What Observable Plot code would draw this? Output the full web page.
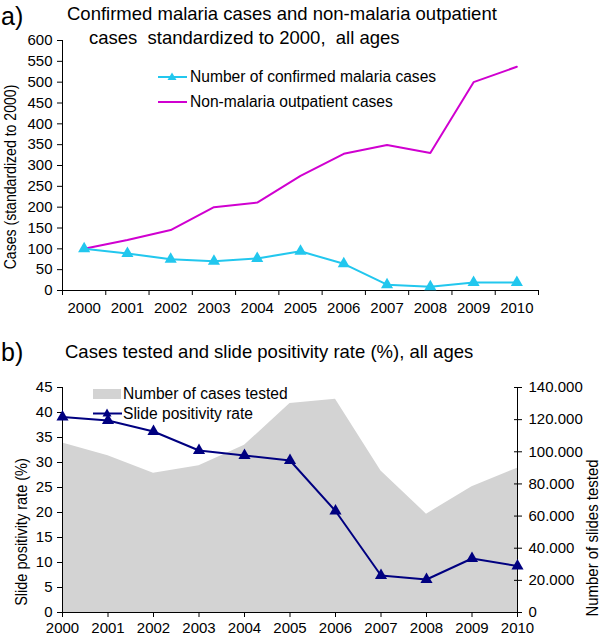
<!DOCTYPE html>
<html><head><meta charset="utf-8">
<script src="https://cdn.jsdelivr.net/npm/d3@7"></script>
<script src="https://cdn.jsdelivr.net/npm/@observablehq/plot@0.6"></script>
<style>
body{margin:0;background:#fff;font-family:Arial,"Liberation Sans",sans-serif;}
#wrap{position:relative;width:600px;height:639px;overflow:hidden;}
#top,#bot{position:absolute;left:0;}
#top{top:0;} #bot{top:320px;}
.t{position:absolute;white-space:pre;color:#000;line-height:1;}
.rot{transform:translate(-50%,-50%) rotate(-90deg) scale(0.88,1);}
svg.sw{position:absolute;overflow:visible;}
</style></head><body><div id="wrap">
<div id="top"></div><div id="bot"></div>
<div class="t" style="left:1px;top:4px;font-size:25px;">a)</div>
<div class="t" style="left:67px;top:5px;font-size:18.5px;">Confirmed malaria cases and non-malaria outpatient</div>
<div class="t" style="left:89px;top:29px;font-size:18.5px;">cases  standardized to 2000,  all ages</div>
<div class="t rot" style="left:11px;top:177px;font-size:16px;">Cases (standardized to 2000)</div>
<svg class="sw" style="left:0;top:0" width="1" height="1">
  <line x1="158" y1="77" x2="187" y2="77" stroke="#22C7EE" stroke-width="2"/>
  <path d="M172,72.5 L176.5,80 L167.5,80 Z" fill="#22C7EE"/>
  <line x1="158" y1="102" x2="187" y2="102" stroke="#D000D0" stroke-width="2"/>
</svg>
<div class="t" style="left:190px;top:69px;font-size:15.6px;">Number of confirmed malaria cases</div>
<div class="t" style="left:190px;top:94px;font-size:15.6px;">Non-malaria outpatient cases</div>

<div class="t" style="left:1px;top:340px;font-size:25px;">b)</div>
<div class="t" style="left:65px;top:343px;font-size:18.5px;">Cases tested and slide positivity rate (%), all ages</div>
<div class="t rot" style="left:21px;top:532px;font-size:16.5px;">Slide positivity rate (%)</div>
<div class="t rot" style="left:592px;top:538px;font-size:17px;">Number of slides tested</div>
<svg class="sw" style="left:0;top:0" width="1" height="1">
  <rect x="93" y="389" width="28" height="10" fill="#D3D3D3"/>
  <line x1="93" y1="413.5" x2="122" y2="413.5" stroke="#000080" stroke-width="2"/>
  <path d="M107,408.5 L111.5,416.5 L102.5,416.5 Z" fill="#000080"/>
</svg>
<div class="t" style="left:123px;top:386px;font-size:15.6px;">Number of cases tested</div>
<div class="t" style="left:123px;top:406px;font-size:15.6px;">Slide positivity rate</div>
</div>
<script>
// ---- data ----
const years = [2000, 2001, 2002, 2003, 2004, 2005, 2006, 2007, 2008, 2009, 2010];
const malaria = [100, 89, 75, 70, 77, 94, 64, 14, 9, 19, 19];
const nonMalaria = [100, 121, 145, 200, 211, 275, 328, 349, 330, 500, 537];
const positivity = [39.1, 38.4, 36.2, 32.4, 31.4, 30.4, 20.3, 7.4, 6.6, 10.8, 9.3];
const tested = [105400, 97500, 86700, 91300, 104000, 130000, 132700, 88000, 61200, 78200, 89800];
const topYTicks = [0, 50, 100, 150, 200, 250, 300, 350, 400, 450, 500, 550, 600];
const leftTicks = [0, 5, 10, 15, 20, 25, 30, 35, 40, 45];
const rightTicks = [0, 20000, 40000, 60000, 80000, 100000, 120000, 140000];

const CYAN = "#22C7EE", MAG = "#D000D0", NAVY = "#000080", GRAY = "#D3D3D3";
const font = "Arial, 'Liberation Sans', sans-serif";

const topData = years.map((y, i) => ({year: y, malaria: malaria[i], non: nonMalaria[i]}));
const boundaries = years.map(y => y - 0.5).concat([years[years.length - 1] + 0.5]);

const chartA = Plot.plot({
  width: 600, height: 320,
  marginLeft: 62, marginRight: 62, marginTop: 40, marginBottom: 30,
  style: {fontFamily: font, fontSize: "15px", color: "#000", background: "transparent"},
  x: {type: "linear", domain: [boundaries[0], boundaries[boundaries.length - 1]]},
  y: {domain: [0, 600]},
  marks: [
    Plot.ruleX([boundaries[0]], {stroke: "#000"}),
    Plot.ruleY([0], {stroke: "#000"}),
    Plot.axisY({ticks: topYTicks, tickSize: 5, tickPadding: 5, label: null, tickFormat: d => String(d)}),
    Plot.axisX({ticks: boundaries, tickSize: 5, tickFormat: () => "", label: null}),
    Plot.axisX({ticks: years, tickSize: 0, tickPadding: 12, label: null, tickFormat: d => String(d)}),
    Plot.line(topData, {x: "year", y: "non", stroke: MAG, strokeWidth: 2}),
    Plot.line(topData, {x: "year", y: "malaria", stroke: CYAN, strokeWidth: 2}),
    Plot.dot(topData, {x: "year", y: "malaria", symbol: "triangle", fill: CYAN, r: 4.5})
  ]
});
document.getElementById("top").appendChild(chartA);

const k = 45 / 140000;
const fmtDot = d3.formatLocale({decimal: ",", thousands: ".", grouping: [3], currency: ["", ""]}).format(",");
const botData = years.map((y, i) => ({year: y, pos: positivity[i], tested: tested[i] * k}));

const chartB = Plot.plot({
  width: 600, height: 319,
  marginLeft: 62, marginRight: 83, marginTop: 67, marginBottom: 27,
  style: {fontFamily: font, fontSize: "15px", color: "#000", background: "transparent"},
  x: {type: "linear", domain: [years[0], years[years.length - 1]]},
  y: {domain: [0, 45]},
  marks: [
    Plot.areaY(botData, {x: "year", y: "tested", fill: GRAY}),
    Plot.ruleY([0], {stroke: "#000"}),
    Plot.ruleX([years[0]], {stroke: "#000"}),
    Plot.ruleX([years[years.length - 1]], {stroke: "#000"}),
    Plot.axisY({anchor: "left", ticks: leftTicks, tickSize: 5, tickPadding: 5, label: null, tickFormat: d => String(d)}),
    Plot.axisY({anchor: "right", ticks: rightTicks.map(v => v * k), tickSize: 8, dx: -4, tickFormat: () => "", label: null}),
    Plot.axisY({anchor: "right", ticks: rightTicks.map(v => v * k), tickSize: 0, tickPadding: 11, label: null, tickFormat: v => fmtDot(Math.round(v / k))}),
    Plot.axisX({ticks: years, tickSize: 5, tickFormat: () => "", label: null}),
    Plot.axisX({ticks: years, tickSize: 0, tickPadding: 10, label: null, tickFormat: d => String(d)}),
    Plot.line(botData, {x: "year", y: "pos", stroke: NAVY, strokeWidth: 2}),
    Plot.dot(botData, {x: "year", y: "pos", symbol: "triangle", fill: NAVY, r: 4.5})
  ]
});
document.getElementById("bot").appendChild(chartB);
</script>
</body></html>
